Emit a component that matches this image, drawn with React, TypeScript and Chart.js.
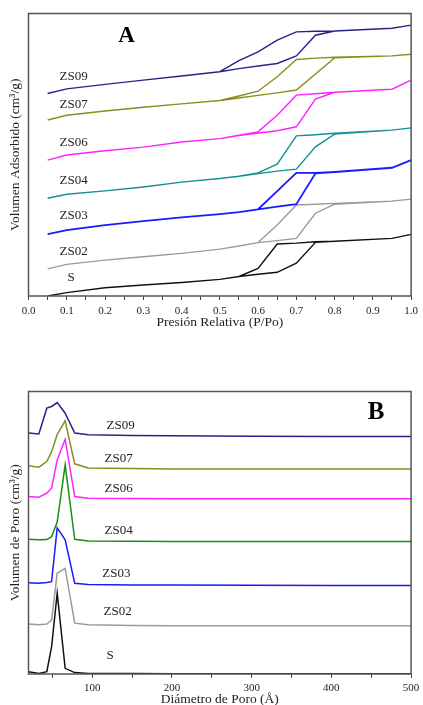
import React, { useEffect, useRef } from 'react';
import { Chart, registerables } from 'chart.js';

Chart.register(...registerables);
Chart.defaults.font.family = "'Liberation Serif', 'Times New Roman', serif";

// ---------- Shared ----------
const SERIES = ['ZS09', 'ZS07', 'ZS06', 'ZS04', 'ZS03', 'ZS02', 'S'];
const COLORS_A = ['#24248c', '#8c8c1c', '#ff22ff', '#139090', '#1a1aff', '#9a9a9a', '#111111'];
const COLORS_B = ['#24248c', '#8c8c1c', '#ff22ff', '#129012', '#1a1aff', '#9a9a9a', '#111111'];

// ---------- Chart A: isotherms ----------
const ADS_P = [0.05, 0.1, 0.2, 0.3, 0.4, 0.5, 0.55, 0.6, 0.65, 0.7, 0.75, 0.8, 0.95, 1.0];
const DES_P = [0.95, 0.8, 0.75, 0.7, 0.65, 0.6, 0.55, 0.5];

const ZS09_ADS = [71.7, 73.3, 74.9, 76.4, 77.9, 79.4, 80.5, 81.4, 82.3, 85.0, 92.3, 93.8, 94.8, 95.9];
const ZS09_DES = [94.8, 93.8, 93.7, 93.5, 90.6, 86.4, 83.3, 79.4];
const ZS07_ADS = [62.3, 64.0, 65.5, 66.8, 68.0, 69.2, 70.1, 71.0, 71.9, 72.9, 78.6, 84.3, 85.0, 85.6];
const ZS07_DES = [85.0, 84.5, 84.2, 83.7, 77.6, 72.5, 70.8, 69.2];
const ZS06_ADS = [48.1, 49.9, 51.4, 52.7, 54.5, 55.7, 56.8, 57.7, 58.5, 59.9, 69.7, 72.1, 73.2, 76.4];
const ZS06_DES = [73.2, 72.1, 71.6, 71.1, 64.0, 58.1, 56.9, 55.7];
const ZS04_ADS = [34.6, 36.0, 37.2, 38.6, 40.3, 41.6, 42.4, 43.3, 44.2, 44.9, 52.8, 57.3, 58.7, 59.5];
const ZS04_DES = [58.7, 57.6, 57.1, 56.7, 46.7, 43.6, 42.4, 41.6];
const ZS03_ADS = [21.9, 23.3, 25.1, 26.5, 27.8, 29.0, 29.7, 30.7, 31.6, 32.5, 43.4, 43.9, 45.4, 48.1];
const ZS03_DES = [45.4, 43.9, 43.6, 43.6, 37.1, 30.7];
const ZS02_ADS = [9.6, 11.2, 12.7, 13.9, 15.1, 16.6, 17.7, 18.9, 19.6, 20.4, 29.3, 32.5, 33.6, 34.3];
const ZS02_DES = [33.6, 32.8, 32.5, 32.2, 25.1, 18.9];
const S_ADS = [0, 1.2, 2.9, 3.9, 4.8, 5.9, 6.9, 7.7, 8.4, 11.6, 19.0, 19.4, 20.4, 21.8];
const S_DES = [20.4, 19.4, 19.2, 18.7, 18.4, 9.8, 6.9];

const A_ADS = [ZS09_ADS, ZS07_ADS, ZS06_ADS, ZS04_ADS, ZS03_ADS, ZS02_ADS, S_ADS];
const A_DES = [ZS09_DES, ZS07_DES, ZS06_DES, ZS04_DES, ZS03_DES, ZS02_DES, S_DES];

const A_MAJOR = [0, 0.1, 0.2, 0.3, 0.4, 0.5, 0.6, 0.7, 0.8, 0.9, 1.0];
const A_MINOR = [0.05, 0.15, 0.25, 0.35, 0.45, 0.55, 0.65, 0.75, 0.85, 0.95];
const A_LABEL_X = [0.081, 0.081, 0.081, 0.081, 0.081, 0.081, 0.102];
const A_LABEL_Y = [77.8, 67.7, 54.2, 41.0, 28.3, 15.7, 6.6];

// ---------- Chart B: pore size distribution ----------
const PORE_D = [20, 33, 43, 49, 56, 66, 78, 95, 150, 200, 300, 400, 500];
const ZS09_PSD = [85.3, 85.0, 94.1, 94.7, 96.1, 92.3, 85.3, 84.7, 84.4, 84.3, 84.2, 84.1, 84.1];
const ZS07_PSD = [73.7, 73.2, 75.2, 78.7, 84.8, 89.6, 74.4, 72.9, 72.7, 72.6, 72.6, 72.6, 72.6];
const ZS06_PSD = [62.8, 62.6, 64.0, 65.8, 75.8, 83.1, 62.8, 62.2, 62.1, 62.0, 62.0, 62.0, 62.0];
const ZS04_PSD = [47.7, 47.5, 47.6, 48.6, 53.8, 74.0, 47.7, 47.1, 47.0, 46.9, 46.9, 46.9, 46.9];
const ZS03_PSD = [32.3, 32.1, 32.4, 32.7, 51.7, 47.5, 32.1, 31.7, 31.5, 31.5, 31.4, 31.3, 31.3];
const ZS02_PSD = [17.7, 17.4, 17.7, 19.1, 35.7, 37.4, 18.0, 17.4, 17.2, 17.1, 17.1, 17.1, 17.1];
const S_PSD = [0.8, 0.2, 0.8, 9.7, 28.6, 2.0, 0.5, 0.2, 0.2, 0.1, 0.1, 0.1, 0.1];
const B_PSD = [ZS09_PSD, ZS07_PSD, ZS06_PSD, ZS04_PSD, ZS03_PSD, ZS02_PSD, S_PSD];

const B_MAJOR = [100, 200, 300, 400, 500];
const B_MINOR = [50, 150, 250, 350, 450];
const B_LABEL_X = [117.9, 115.4, 115.4, 115.4, 112.5, 114.2, 117.9];
const B_LABEL_Y = [88.0, 76.2, 65.5, 50.7, 35.4, 22.1, 6.4];

const TEXT = '#222';

function makeOverlay(labelX: number[], labelY: number[], big: string, bigX: number, bigY: number, bigSize: number) {
  return {
    id: 'overlay',
    afterDatasetsDraw(chart: any) {
      const { ctx, chartArea } = chart;
      const xs = chart.scales.x;
      const ys = chart.scales.y;
      ctx.save();
      ctx.strokeStyle = '#555';
      ctx.lineWidth = 1.5;
      ctx.strokeRect(chartArea.left, chartArea.top, chartArea.right - chartArea.left, chartArea.bottom - chartArea.top);
      ctx.fillStyle = TEXT;
      ctx.textBaseline = 'middle';
      ctx.textAlign = 'left';
      ctx.font = "13px 'Liberation Serif', serif";
      SERIES.forEach((name, i) => {
        ctx.fillText(name, xs.getPixelForValue(labelX[i]), ys.getPixelForValue(labelY[i]));
      });
      ctx.textAlign = 'center';
      ctx.fillStyle = '#000';
      ctx.font = `bold ${bigSize}px 'Liberation Serif', serif`;
      ctx.fillText(big, xs.getPixelForValue(bigX), ys.getPixelForValue(bigY));
      ctx.restore();
    },
  };
}

function axisX(min: number, max: number, major: number[], minor: number[], fit: number, pad: number, title: string, titlePad: number, fmt: (v: number) => string) {
  const all = [...major, ...minor].sort((a, b) => a - b);
  return {
    type: 'linear',
    min,
    max,
    afterBuildTicks: (s: any) => {
      s.ticks = all.map((v) => ({ value: v }));
    },
    afterFit: (s: any) => {
      s.height = fit;
    },
    grid: { display: true, drawOnChartArea: false, drawTicks: true, tickLength: 4, tickColor: '#444', color: '#444' },
    border: { display: false },
    ticks: {
      autoSkip: false,
      maxRotation: 0,
      minRotation: 0,
      padding: pad,
      color: TEXT,
      font: { size: 11 },
      callback: (v: number) => (major.includes(v) ? fmt(v) : ''),
    },
    title: { display: true, text: title, color: TEXT, font: { size: 13.5 }, padding: { top: 0, bottom: titlePad } },
  };
}

function axisY(title: string) {
  return {
    type: 'linear',
    min: 0,
    max: 100,
    afterFit: (s: any) => {
      s.width = 28.5;
    },
    grid: { display: false },
    border: { display: false },
    ticks: { display: false },
    title: { display: true, text: title, color: TEXT, font: { size: 13.5 }, padding: { top: 7, bottom: 0 } },
  };
}

function configA() {
  const datasets = SERIES.map((name, i) => {
    const pts = ADS_P.map((p, j) => ({ x: p, y: A_ADS[i][j] })).concat(
      A_DES[i].map((v, j) => ({ x: DES_P[j], y: v }))
    );
    return {
      label: name,
      data: pts,
      borderColor: COLORS_A[i],
      borderWidth: name === 'ZS03' ? 1.8 : 1.4,
      pointRadius: 0,
      tension: 0,
      fill: false,
    };
  });
  return {
    type: 'line',
    data: { datasets },
    options: {
      animation: false,
      responsive: false,
      events: [],
      layout: { padding: { left: 0, top: 13.5, right: 7.5, bottom: 0 } },
      plugins: { legend: { display: false }, tooltip: { enabled: false } },
      scales: {
        x: axisX(0, 1, A_MAJOR, A_MINOR, 44, 5, 'Presión Relativa (P/Po)', 9, (v) => v.toFixed(1)),
        y: axisY('Volumen Adsorbido (cm³/g)'),
      },
    },
    plugins: [makeOverlay(A_LABEL_X, A_LABEL_Y, 'A', 0.256, 92.0, 23)],
  };
}

function configB() {
  const datasets = SERIES.map((name, i) => ({
    label: name,
    data: PORE_D.map((d, j) => ({ x: d, y: B_PSD[i][j] })),
    borderColor: COLORS_B[i],
    borderWidth: 1.5,
    pointRadius: 0,
    tension: 0,
    fill: false,
  }));
  return {
    type: 'line',
    data: { datasets },
    options: {
      animation: false,
      responsive: false,
      events: [],
      layout: { padding: { left: 0, top: 51.5, right: 7.5, bottom: 0 } },
      plugins: { legend: { display: false }, tooltip: { enabled: false } },
      scales: {
        x: axisX(20, 500, B_MAJOR, B_MINOR, 31, 3.7, 'Diámetro de Poro (Å)', -3, (v) => String(v)),
        y: axisY('Volumen de Poro (cm³/g)'),
      },
    },
    plugins: [makeOverlay(B_LABEL_X, B_LABEL_Y, 'B', 456, 92.5, 25)],
  };
}

function ChartCanvas({ make, top, height }: { make: () => any; top: number; height: number }) {
  const ref = useRef<HTMLCanvasElement>(null);
  useEffect(() => {
    const chart = new Chart(ref.current as HTMLCanvasElement, make());
    return () => chart.destroy();
  }, []);
  return (
    <canvas
      ref={ref}
      width={423}
      height={height}
      style={{ position: 'absolute', left: 0, top, width: 423, height, display: 'block' }}
    />
  );
}

export default function App() {
  return (
    <div style={{ position: 'absolute', left: 0, top: 0, width: 423, height: 705, overflow: 'hidden', background: '#fff' }}>
      <ChartCanvas make={configA} top={0} height={340} />
      <ChartCanvas make={configB} top={340} height={365} />
    </div>
  );
}
